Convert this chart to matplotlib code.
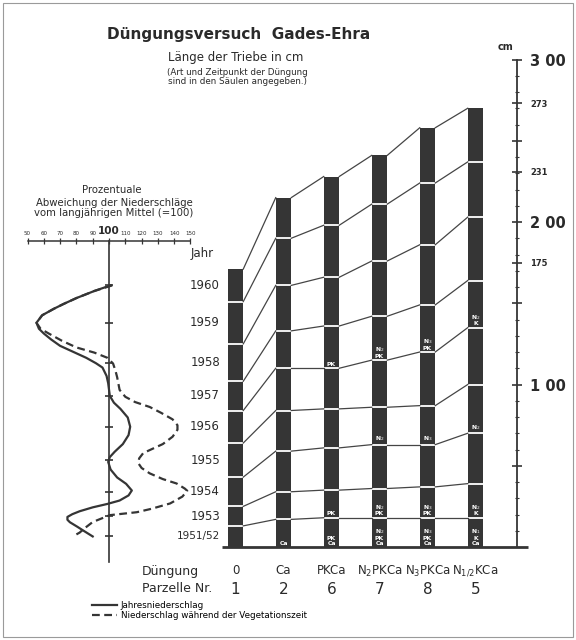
import numpy as np
import matplotlib
matplotlib.use("Agg")
import matplotlib.pyplot as plt
from matplotlib.patches import Rectangle

# Düngungsversuch Gades-Ehra: jährlicher Zuwachs der Triebe (cm)
jahre = ["1951/52", "1953", "1954", "1955", "1956", "1957", "1958", "1959", "1960"]
parzellen = ["1", "2", "6", "7", "8", "5"]
duengung = ["0", "Ca", "PKCa", "N$_2$PKCa", "N$_3$PKCa", "N$_{1/2}$KCa"]

zuwachs_p1 = [13, 12, 18, 21, 20, 18, 23, 26, 20]
zuwachs_p2 = [17, 17, 25, 25, 26, 23, 28, 29, 25]
zuwachs_p6 = [18, 17, 26, 24, 25, 26, 30, 32, 30]
zuwachs_p7 = [18, 18, 27, 23, 29, 27, 34, 35, 30]
zuwachs_p8 = [18, 19, 26, 24, 33, 29, 37, 38, 34]
zuwachs_p5 = [18, 21, 31, 30, 35, 29, 39, 34, 33]

# (Säule, Jahr-Index, Beschriftung)
saeulen_text = [
    (1, 0, "Ca"),
    (2, 0, "PK\nCa"), (2, 1, "PK"), (2, 5, "PK"),
    (3, 0, "N$_2$\nPK\nCa"), (3, 1, "N$_2$\nPK"), (3, 3, "N$_2$"), (3, 5, "N$_2$\nPK"),
    (4, 0, "N$_3$\nPK\nCa"), (4, 1, "N$_3$\nPK"), (4, 3, "N$_3$"), (4, 5, "N$_3$\nPK"),
    (5, 0, "N$_1$\nK\nCa"), (5, 1, "N$_2$\nK"), (5, 3, "N$_2$"), (5, 5, "N$_2$\nK"),
]

# Skala rechts
skala_ticks = [50, 100, 150, 175, 200, 231, 250, 273, 300]
skala_labels = ["", "1 00", "", "175", "2 00", "231", "", "273", "3 00"]

# Niederschlag in % vom langjährigen Mittel, Position als Jahr-Index (0 = 1951/52)
jahres_pos = [8.0, 7.85, 7.66, 7.5, 7.37, 7.2, 7.0, 6.85, 6.73, 6.58, 6.42, 6.27, 6.12,
              5.98, 5.85, 5.6, 5.38, 5.0, 4.78, 4.58, 4.3, 4.0, 3.75, 3.48, 3.25, 3.09,
              2.94, 2.7, 2.45, 2.25, 2.04, 1.85, 1.64, 1.5, 1.36, 1.2, 1.08, 0.96, 0.82,
              0.7, 0.48, 0.25, 0.0]
jahres_pct = [101, 91, 80, 72, 66, 59, 55.5, 57, 60, 64.5, 70, 78, 86,
              92, 96, 98.5, 99.5, 100.5, 103, 107, 111.5, 113, 112, 108.5, 103.5, 100.5,
              99.5, 101, 105, 110.5, 114, 112, 106.5, 99, 90, 82, 77.5, 74.5, 74.5,
              76, 80.5, 85, 90]
veg_pos = [8.0, 7.85, 7.66, 7.5, 7.37, 7.2, 7.0, 6.85, 6.73, 6.55, 6.38, 6.25, 6.12,
           5.97, 5.75, 5.56, 5.18, 4.97, 4.8, 4.64, 4.45, 4.24, 4.05, 3.91, 3.7, 3.48,
           3.21, 3.05, 2.90, 2.75, 2.58, 2.4, 2.26, 2.1, 2.03, 1.8, 1.52, 1.3, 1.16,
           1.04, 0.71, 0.4, 0.19, 0.1]
veg_pct = [102, 91, 80, 72, 66, 59, 55.5, 58, 63, 71, 80, 91, 99,
           102.5, 104, 105, 106.5, 110, 116, 125, 132, 139, 142, 142, 139, 133,
           121, 118.5, 118, 120, 125, 133, 141.5, 146.5, 148, 145, 137.5, 126, 117,
           100.5, 90, 85, 82, 80]

zuwachs = [zuwachs_p1, zuwachs_p2, zuwachs_p6, zuwachs_p7, zuwachs_p8, zuwachs_p5]

W, H = 576, 640
X0, DX = 235.5, 48.0     # Säulenmitte 0 und Abstand in px
Y0, KY = 547.0, 1.625    # Grundlinie in px, px pro cm
P0, KP = 109.0, 1.63     # 100 % in px, px pro %

def px2x(px):
    return (px - X0) / DX

def py2cm(py):
    return (Y0 - py) / KY

def px2pct(px):
    return 100 + (px - P0) / KP

def ftxt(px, py, s, **kw):
    fig.text(px / W, 1 - py / H, s, **kw)

dunkel = "#353535"
linie = "#454545"
schrift = "#2a2a2a"
plt.rcParams["font.family"] = ["DejaVu Sans"]

fig = plt.figure(figsize=(W / 100, H / 100), dpi=100)
ax = fig.add_axes([0, 0, 1, 1])
ax.set_xlim(px2x(0), px2x(W))
ax.set_ylim(py2cm(H), py2cm(0))
ax.axis("off")

# Säulen
bw = 15.5 / DX
oben = [np.cumsum(z) for z in zuwachs]
for i, z in enumerate(zuwachs):
    unten = np.concatenate([[0], oben[i][:-1]])
    ax.bar([i] * len(z), z, bottom=unten, width=bw, color=dunkel, linewidth=0)
    ax.hlines(oben[i][:-1], i - bw / 2, i + bw / 2, color="white", lw=1.3)

# Verbindungslinien gleicher Jahre
for i in range(len(zuwachs) - 1):
    for j in range(len(jahre)):
        ax.plot([i + bw / 2, i + 1 - bw / 2], [oben[i][j], oben[i + 1][j]],
                color=linie, lw=0.9)

for i, j, s in saeulen_text:
    b = oben[i][j - 1] if j > 0 else 0
    ax.text(i, b + 0.8, s, color="white", fontsize=4.4, fontweight="bold",
            ha="center", va="bottom", linespacing=0.9)

ax.plot([px2x(222), px2x(528)], [0, 0], color=dunkel, lw=2, solid_capstyle="butt")

# Jahresbeschriftung an Säule 1
mitte = oben[0] - np.array(zuwachs_p1) / 2
for j, jahr in enumerate(jahre):
    ax.text(px2x(220), mitte[j], jahr, ha="right", va="center",
            fontsize=7.5 if j == 0 else 8.5, color=schrift)
ax.text(px2x(214), py2cm(254), "Jahr", ha="right", va="center", fontsize=8.5, color=schrift)

# Skala cm
axs = fig.add_axes([517 / W, 0, 1e-4, 1])
axs.set_ylim(ax.get_ylim())
axs.patch.set_visible(False)
for k in ["top", "bottom", "right"]:
    axs.spines[k].set_visible(False)
axs.spines["left"].set_bounds(0, 300)
axs.spines["left"].set_linewidth(1.3)
axs.spines["left"].set_color(dunkel)
axs.set_xticks([])
axs.set_yticks(skala_ticks)
axs.set_yticklabels(skala_labels)
axs.set_yticks(np.arange(10, 300, 10), minor=True)
axs.tick_params(axis="y", which="major", direction="inout", length=7, width=1.2,
                left=True, right=False, labelleft=False, labelright=True, pad=6,
                color=dunkel, labelcolor=schrift)
axs.tick_params(axis="y", which="minor", direction="inout", length=3.5, width=0.8,
                left=True, right=False, color=dunkel)
for t, v in zip(axs.get_yticklabels(), skala_ticks):
    t.set_fontweight("bold")
    t.set_fontsize(10.5 if v in (100, 200, 300) else 6)
ftxt(506, 47, "cm", fontsize=7, fontweight="bold", ha="center", va="center", color=schrift)

# Niederschlagskurven
axc = fig.add_axes([0, 0, 1, 1])
axc.set_xlim(px2pct(0), px2pct(W))
axc.set_ylim(ax.get_ylim())
axc.axis("off")
axc.patch.set_visible(False)

yj = np.interp(jahres_pos, np.arange(len(jahre)), mitte)
yv = np.interp(veg_pos, np.arange(len(jahre)), mitte)
l1, = axc.plot(jahres_pct, yj, color=dunkel, lw=1.6, solid_joinstyle="round")
l2, = axc.plot(veg_pct, yv, color=dunkel, lw=1.6, dashes=(3.5, 2))

axc.plot([100, 100], [py2cm(241), py2cm(562)], color=dunkel, lw=1.2)
axc.plot([100] * len(jahre), mitte, ls="none", marker="_", markersize=6,
         markeredgewidth=1.2, color=dunkel)

axp = fig.add_axes([0, 1 - 241 / H, 1, 1e-4])
axp.set_xlim(axc.get_xlim())
axp.patch.set_visible(False)
for k in ["top", "left", "right"]:
    axp.spines[k].set_visible(False)
axp.spines["bottom"].set_bounds(50, 150)
axp.spines["bottom"].set_color(dunkel)
axp.spines["bottom"].set_linewidth(1.1)
axp.set_yticks([])
axp.set_xticks(np.arange(50, 151, 10))
axp.tick_params(axis="x", direction="inout", length=4, width=0.9, bottom=True,
                top=False, labelbottom=False, labeltop=True, pad=1.5, color=dunkel,
                labelsize=4, labelcolor=schrift)
for t in axp.get_xticklabels():
    if t.get_text() == "100":
        t.set_fontsize(7.5)
        t.set_fontweight("bold")

axc.legend([l1, l2], ["Jahresniederschlag", "Niederschlag während der Vegetationszeit"],
           loc="upper left", bbox_to_anchor=(92 / W, 1 - 601 / H), frameon=False,
           fontsize=6.3, handlelength=2.8, handletextpad=0.5, labelspacing=0.15,
           borderpad=0, borderaxespad=0)

# Titel und Texte
ftxt(239, 35, "Düngungsversuch  Gades-Ehra", fontsize=11, fontweight="bold",
     ha="center", va="center", color=schrift)
ftxt(236, 58, "Länge der Triebe in cm", fontsize=8.5, ha="center", va="center", color=schrift)
ftxt(237, 77, "(Art und Zeitpunkt der Düngung\nsind in den Säulen angegeben.)",
     fontsize=6.3, ha="center", va="center", linespacing=1.0, color=schrift)
ftxt(112, 190, "Prozentuale", fontsize=7.3, ha="center", va="center", color=schrift)
ftxt(114, 208, "Abweichung der Niederschläge\nvom langjährigen Mittel (=100)",
     fontsize=7.3, ha="center", va="center", linespacing=1.0, color=schrift)

ftxt(142, 571, "Düngung", fontsize=9, ha="left", va="center", color=schrift)
ftxt(142, 589, "Parzelle Nr.", fontsize=9, ha="left", va="center", color=schrift)
for i in range(len(parzellen)):
    ax.text(i, py2cm(571), duengung[i], fontsize=8.5, ha="center", va="center", color=schrift)
    ax.text(i, py2cm(589), parzellen[i], fontsize=11, ha="center", va="center", color=schrift)

fig.patches.append(Rectangle((3 / W, 3 / H), 570 / W, 634 / H, transform=fig.transFigure,
                             fill=False, edgecolor="#9a9a9a", lw=0.8))

fig.savefig("out.png", dpi=100, facecolor="white")
